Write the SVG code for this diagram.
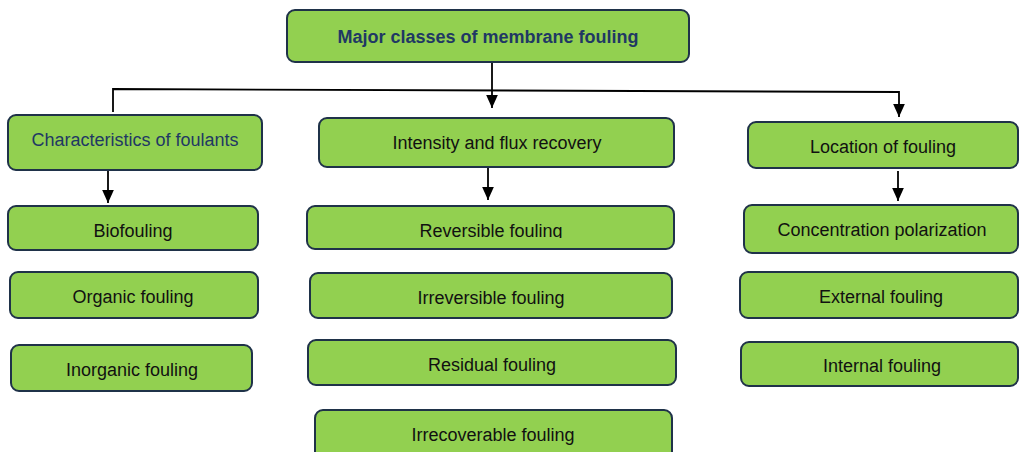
<svg xmlns="http://www.w3.org/2000/svg" width="1019" height="452" viewBox="0 0 1019 452">
<style>
.box{fill:#92d050;stroke:#1f3249;stroke-width:2}
.t{font-family:"Liberation Sans",Arial,sans-serif;font-size:18px;fill:#111;text-anchor:middle}
.nv{fill:#1f3864}
.b{font-weight:bold}
.c{stroke:#000;stroke-width:1.8;fill:none}
</style>
<defs>
<marker id="ah" viewBox="0 0 10 10" refX="10" refY="5" markerWidth="13" markerHeight="13" markerUnits="userSpaceOnUse" orient="auto">
<path d="M0,0.5 L10,5 L0,9.5 z" fill="#000"/>
</marker>
<clipPath id="clipRev"><rect x="300" y="200" width="380" height="38"/></clipPath>
</defs>
<rect width="1019" height="452" fill="#fff"/>
<g id="connectors">
<path class="c" d="M113,112 V89 L899,92 V117" marker-end="url(#ah)"/>
<path class="c" d="M492,63 V108" marker-end="url(#ah)"/>
<path class="c" d="M108,171 V203" marker-end="url(#ah)"/>
<path class="c" d="M488,168 V200" marker-end="url(#ah)"/>
<path class="c" d="M898,171 V201" marker-end="url(#ah)"/>
</g>
<g id="root"><rect class="box" x="287" y="10" width="402" height="52" rx="8"/><text class="t nv b" x="488" y="43">Major classes of membrane fouling</text></g>
<g id="characteristics"><rect class="box" x="8" y="115" width="254" height="55" rx="8"/><text class="t nv" x="135" y="146">Characteristics of foulants</text></g>
<g id="intensity"><rect class="box" x="319" y="118" width="355" height="49" rx="8"/><text class="t" x="497" y="149">Intensity and flux recovery</text></g>
<g id="location"><rect class="box" x="748" y="122" width="270" height="46" rx="8"/><text class="t" x="883" y="153">Location of fouling</text></g>
<g id="biofouling"><rect class="box" x="8" y="206" width="250" height="44" rx="8"/><text class="t" x="133" y="237">Biofouling</text></g>
<g id="organic"><rect class="box" x="10" y="272" width="248" height="46" rx="8"/><text class="t" x="133" y="303">Organic fouling</text></g>
<g id="inorganic"><rect class="box" x="11" y="345" width="241" height="46" rx="8"/><text class="t" x="132" y="376">Inorganic fouling</text></g>
<g id="reversible"><rect class="box" x="307" y="206" width="367" height="43" rx="8"/><text class="t" x="491" y="237" clip-path="url(#clipRev)">Reversible fouling</text></g>
<g id="irreversible"><rect class="box" x="310" y="273" width="362" height="45" rx="8"/><text class="t" x="491" y="304">Irreversible fouling</text></g>
<g id="residual"><rect class="box" x="308" y="340" width="368" height="45" rx="8"/><text class="t" x="492" y="371">Residual fouling</text></g>
<g id="irrecoverable"><rect class="box" x="315" y="410" width="357" height="50" rx="8"/><text class="t" x="493" y="441">Irrecoverable fouling</text></g>
<g id="concentration"><rect class="box" x="744" y="205" width="274" height="48" rx="8"/><text class="t" x="882" y="236">Concentration polarization</text></g>
<g id="external"><rect class="box" x="740" y="272" width="278" height="46" rx="8"/><text class="t" x="881" y="303">External fouling</text></g>
<g id="internal"><rect class="box" x="741" y="342" width="277" height="44" rx="8"/><text class="t" x="882" y="372">Internal fouling</text></g>
</svg>
